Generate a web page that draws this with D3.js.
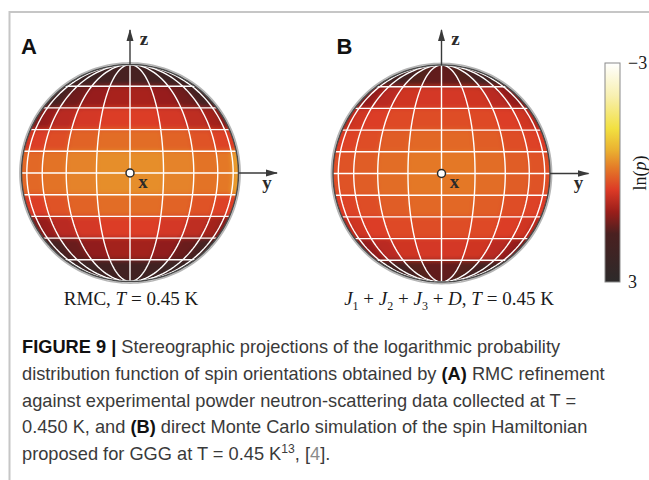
<!DOCTYPE html>
<html>
<head>
<meta charset="utf-8">
<script src="https://cdn.jsdelivr.net/npm/d3@7"></script>
<style>
body { margin: 0; background: #fff; }
svg { display: block; }
text { white-space: pre; }
</style>
</head>
<body>
<svg id="chart" width="649" height="480"></svg>
<script>
// bins : 10 equal-area slices in z, 10 slices in phi over the visible half
var zEdges = [1, 0.8, 0.6, 0.4, 0.2, 0, -0.2, -0.4, -0.6, -0.8, -1];
var phiEdges = [-90, -72, -54, -36, -18, 0, 18, 36, 54, 72, 90];

// ln(p) per bin, rows top (z=1) -> bottom, columns left (phi=-90) -> right
var lnpRMC = [
  [2.5, 2.4, 2.2, 2.0, 1.8, 1.8, 2.0, 2.2, 2.4, 2.5],
  [2.0, 1.8, 1.4, 1.1, 0.95, 0.95, 1.1, 1.4, 1.8, 2.0],
  [1.4, 1.1, 0.8, 0.55, 0.45, 0.45, 0.55, 0.75, 1.0, 1.3],
  [0.6, 0.45, 0.3, 0.1, 0.0, 0.0, 0.1, 0.25, 0.4, 0.45],
  [0.05, 0.05, -0.05, -0.2, -0.3, -0.3, -0.2, -0.05, -0.1, -0.45],
  [0.05, 0.05, -0.05, -0.2, -0.3, -0.3, -0.2, -0.05, -0.1, -0.45],
  [0.55, 0.45, 0.25, 0.1, 0.0, 0.0, 0.1, 0.25, 0.4, 0.45],
  [1.4, 1.1, 0.8, 0.55, 0.45, 0.45, 0.55, 0.75, 1.0, 1.3],
  [2.0, 1.8, 1.45, 1.15, 1.0, 1.0, 1.15, 1.45, 1.8, 2.0],
  [2.5, 2.4, 2.3, 2.1, 2.0, 2.0, 2.1, 2.3, 2.4, 2.5]
];
var lnpMC = [
  [2.2, 2.1, 1.9, 1.6, 1.5, 1.5, 1.6, 1.9, 2.1, 2.2],
  [1.4, 1.1, 0.8, 0.6, 0.55, 0.55, 0.6, 0.8, 1.1, 1.4],
  [0.9, 0.6, 0.45, 0.35, 0.3, 0.3, 0.35, 0.45, 0.6, 0.9],
  [0.5, 0.4, 0.3, 0.15, 0.05, 0.05, 0.15, 0.3, 0.4, 0.5],
  [0.3, 0.25, 0.15, 0.0, -0.1, -0.1, 0.0, 0.15, 0.25, 0.3],
  [0.3, 0.25, 0.15, 0.0, -0.1, -0.1, 0.0, 0.15, 0.25, 0.3],
  [0.5, 0.4, 0.3, 0.15, 0.05, 0.05, 0.15, 0.3, 0.4, 0.5],
  [0.9, 0.6, 0.45, 0.35, 0.3, 0.3, 0.35, 0.45, 0.6, 0.9],
  [1.4, 1.1, 0.8, 0.6, 0.55, 0.55, 0.6, 0.8, 1.1, 1.4],
  [2.2, 2.1, 1.9, 1.6, 1.5, 1.5, 1.6, 1.9, 2.1, 2.2]
];

// colour map, -3 (white) to 3 (near black)
var cmapValues = [-3, -2.1, -1.2, -0.6, -0.12, 0.48, 1.08, 1.68, 3];
var cmapColors = ['#ffffff', '#f8f0b0', '#f2e040', '#eab030', '#e47a28', '#dc3a26', '#9a1e1a', '#4a2020', '#2c2a2a'];
var cbarTicks = [-3, 3];

var caption = [
  [['FIGURE 9 |', 'b'], [' Stereographic projections of the logarithmic probability', '']],
  [['distribution function of spin orientations obtained by ', ''], ['(A)', 'b'], [' RMC refinement', '']],
  [['against experimental powder neutron-scattering data collected at T =', '']],
  [['0.450 K, and ', ''], ['(B)', 'b'], [' direct Monte Carlo simulation of the spin Hamiltonian', '']],
  [['proposed for GGG at T = 0.45 K', ''], ['13', 'sup'], [', [', ''], ['4', 'link'], ['].', '']]
];

var svg = d3.select('#chart');
var defs = svg.append('defs');
var R = 108.5;
var serif = '"Liberation Serif", "Times New Roman", serif';
var sans = '"Liberation Sans", Arial, sans-serif';

var color = d3.scaleLinear().domain(cmapValues).range(cmapColors).clamp(true);

// soft shading inside the cells, then alpha forced back to 1 (clip does the edge)
var soft = defs.append('filter').attr('id', 'soft')
    .attr('x', '-10%').attr('y', '-10%').attr('width', '120%').attr('height', '120%');
soft.append('feGaussianBlur').attr('stdDeviation', 2.6).attr('result', 'b');
soft.append('feComponentTransfer').attr('in', 'b')
    .append('feFuncA').attr('type', 'linear').attr('slope', 30).attr('intercept', 0);

defs.append('marker').attr('id', 'arrow')
    .attr('viewBox', '0 0 12 8').attr('refX', 11).attr('refY', 4)
    .attr('markerUnits', 'userSpaceOnUse').attr('markerWidth', 12).attr('markerHeight', 8)
    .attr('orient', 'auto')
  .append('path').attr('d', 'M0,0.5L12,4L0,7.5Z').attr('fill', '#3a3a3a');

// frame
svg.append('path').attr('d', 'M9.5,480V12H649')
    .attr('fill', 'none').attr('stroke', '#c6c6c6').attr('stroke-width', 2);

function zLat(z) {
  return Math.asin(Math.max(-1, Math.min(1, z))) * 180 / Math.PI;
}

function cellRing(p0, p1, la0, la1) {
  var ring = [], n = 10, i;
  for (i = 0; i <= n; i++) ring.push([p0, la0 + (la1 - la0) * i / n]);
  for (i = 1; i <= n; i++) ring.push([p0 + (p1 - p0) * i / n, la1]);
  for (i = 1; i <= n; i++) ring.push([p1, la1 - (la1 - la0) * i / n]);
  for (i = 1; i < n; i++) ring.push([p1 - (p1 - p0) * i / n, la0]);
  return ring;
}

var panels = [
  {key: 'A', cx: 130, cy: 173, data: lnpRMC},
  {key: 'B', cx: 441.5, cy: 173.5, data: lnpMC}
];

panels.forEach(function(p, i) {
  var proj = d3.geoOrthographic().scale(R).translate([p.cx, p.cy]).rotate([0, 0]);
  var spherePath = d3.geoPath(proj)({type: 'Sphere'});
  var line = d3.line();
  var g = svg.append('g');

  defs.append('clipPath').attr('id', 'clip' + i).append('path').attr('d', spherePath);

  var cells = [];
  p.data.forEach(function(row, r) {
    row.forEach(function(v, c) { cells.push({r: r, c: c, v: v}); });
  });

  // outer halo + rim
  g.append('path').attr('d', d3.geoPath(d3.geoOrthographic().scale(R + 1.6).translate([p.cx, p.cy]))({type: 'Sphere'}))
      .attr('fill', 'none').attr('stroke', '#b5b5b5').attr('stroke-width', 1.6);

  g.append('g').attr('clip-path', 'url(#clip' + i + ')')
    .append('g').attr('filter', 'url(#soft)')
    .selectAll('path').data(cells).join('path')
      .attr('d', function(d) {
        var ring = cellRing(phiEdges[d.c], phiEdges[d.c + 1], zLat(zEdges[d.r + 1]), zLat(zEdges[d.r]));
        return line(ring.map(proj)) + 'Z';
      })
      .attr('fill', function(d) { return color(d.v); })
      .attr('stroke', function(d) { return color(d.v); })
      .attr('stroke-width', 0.8);

  // grid : parallels and meridians
  var grid = g.append('g').attr('fill', 'none').attr('stroke', '#fff').attr('stroke-width', 1.4);
  zEdges.slice(1, -1).forEach(function(z) {
    var la = zLat(z);
    grid.append('path').attr('d', line(d3.range(-90, 90.1, 3).map(function(lo) { return proj([lo, la]); })));
  });
  phiEdges.slice(1, -1).forEach(function(lo) {
    grid.append('path').attr('d', line(d3.range(-90, 90.1, 2).map(function(la) { return proj([lo, la]); })));
  });

  g.append('path').attr('d', spherePath)
      .attr('fill', 'none').attr('stroke', '#4a4a4a').attr('stroke-width', 1.5);

  // axes
  g.append('line').attr('x1', p.cx).attr('y1', p.cy - R).attr('x2', p.cx).attr('y2', 30)
      .attr('stroke', '#3a3a3a').attr('stroke-width', 1.4).attr('marker-end', 'url(#arrow)');
  g.append('line').attr('x1', p.cx + R).attr('y1', p.cy).attr('x2', p.cx + 147).attr('y2', p.cy)
      .attr('stroke', '#3a3a3a').attr('stroke-width', 1.4).attr('marker-end', 'url(#arrow)');

  g.append('circle').attr('cx', p.cx).attr('cy', p.cy).attr('r', 4)
      .attr('fill', '#fff').attr('stroke', '#2a2a2a').attr('stroke-width', 1.5);

  var lab = g.append('g').attr('font-family', serif).attr('font-weight', 'bold')
      .attr('font-size', 19).attr('fill', '#2a2a2a').attr('text-anchor', 'middle');
  lab.append('text').attr('x', p.cx + 14).attr('y', 45).text('z');
  lab.append('text').attr('x', p.cx + 13).attr('y', 188).text('x');
  lab.append('text').attr('x', p.cx + 137).attr('y', 189).text('y');

  g.append('text').attr('x', p.key === 'A' ? 21 : 336.5).attr('y', 54)
      .attr('font-family', sans).attr('font-weight', 'bold').attr('font-size', 22)
      .attr('fill', '#111').text(p.key);
});

// panel subtitles
var sub = svg.append('g').attr('font-family', serif).attr('font-size', 19)
    .attr('fill', '#1a1a1a').attr('text-anchor', 'middle');
var tA = sub.append('text').attr('x', 131).attr('y', 305);
tA.append('tspan').text('RMC, ');
tA.append('tspan').attr('font-style', 'italic').text('T');
tA.append('tspan').text(' = 0.45 K');

var tB = sub.append('text').attr('x', 449).attr('y', 305);
[['J', '1'], ['J', '2'], ['J', '3']].forEach(function(s) {
  tB.append('tspan').attr('font-style', 'italic').text(s[0]);
  tB.append('tspan').attr('font-size', 12).attr('dy', 5).text(s[1]);
  tB.append('tspan').attr('dy', -5).text(' + ');
});
tB.append('tspan').attr('font-style', 'italic').text('D');
tB.append('tspan').text(', ');
tB.append('tspan').attr('font-style', 'italic').text('T');
tB.append('tspan').text(' = 0.45 K');

// colour bar
var cbar = d3.scaleLinear().domain([-3, 3]).range([63, 282]);
var grad = defs.append('linearGradient').attr('id', 'cbarGrad')
    .attr('x1', 0).attr('y1', 0).attr('x2', 0).attr('y2', 1);
grad.selectAll('stop').data(cmapValues).join('stop')
    .attr('offset', function(v) { return (v + 3) / 6; })
    .attr('stop-color', function(v, i) { return cmapColors[i]; });
svg.append('rect').attr('x', 605).attr('y', cbar(-3)).attr('width', 15)
    .attr('height', cbar(3) - cbar(-3))
    .attr('fill', 'url(#cbarGrad)').attr('stroke', '#8a8a8a').attr('stroke-width', 1);

var cAxis = svg.append('g').attr('transform', 'translate(620,0)')
    .call(d3.axisRight(cbar).tickValues(cbarTicks).tickFormat(d3.format('d')).tickSize(0).tickPadding(8));
cAxis.select('.domain').remove();
cAxis.selectAll('text').attr('font-family', serif).attr('font-size', 18).attr('fill', '#1a1a1a');

var ln = svg.append('text').attr('transform', 'translate(646,173) rotate(-90)')
    .attr('text-anchor', 'middle').attr('font-family', serif).attr('font-size', 18).attr('fill', '#1a1a1a');
ln.append('tspan').text('ln(');
ln.append('tspan').attr('font-style', 'italic').text('p');
ln.append('tspan').text(')');

// caption, squeezed horizontally to the width of the printed lines
var cap = svg.append('g').attr('font-family', sans).attr('fill', '#3a3a3a');
var capLines = cap.selectAll('text').data(caption).join('text')
    .attr('x', 0).attr('y', function(d, i) { return 353 + i * 26.8; })
    .attr('font-size', 18);
capLines.each(function(parts) {
  var t = d3.select(this);
  parts.forEach(function(s, k) {
    var ts = t.append('tspan').text(s[0]);
    if (s[1] === 'b') ts.attr('font-weight', 'bold').attr('fill', '#111');
    if (s[1] === 'link') ts.attr('fill', '#8a8a8a');
    if (s[1] === 'sup') ts.attr('font-size', 12).attr('dy', -7);
    if (k > 0 && parts[k - 1][1] === 'sup') ts.attr('dy', 7);
  });
});
var w2 = capLines.nodes()[1].getComputedTextLength();
cap.attr('transform', 'translate(22,0) scale(' + (583 / w2) + ',1)');
</script>
</body>
</html>
